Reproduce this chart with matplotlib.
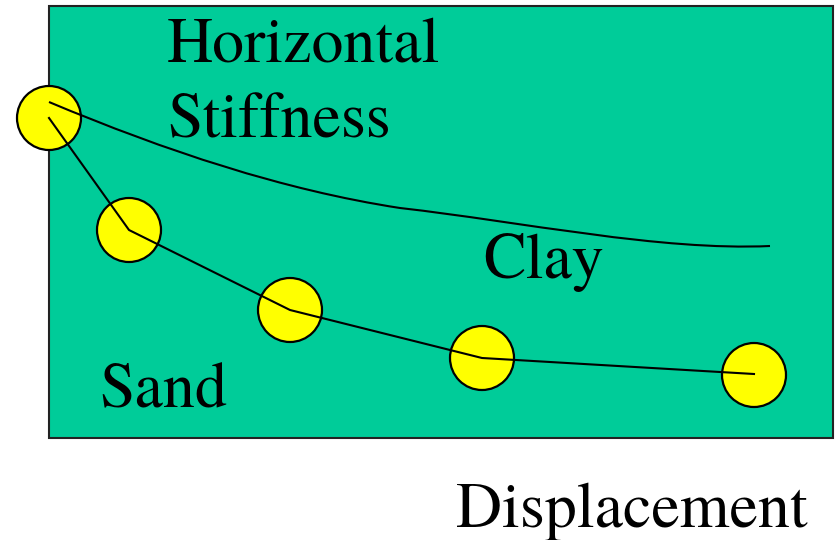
import matplotlib
matplotlib.use("Agg")
import matplotlib.pyplot as plt
from matplotlib.patches import Rectangle, Circle, PathPatch
from matplotlib.path import Path

# Schematic data in pixel-like coordinates (x right, y down)
sand_x = [49, 129, 290, 482, 754]
sand_y = [118, 230, 310, 358, 374]
# Clay curve: cubic Bezier vertices (start, ctrl, ctrl, end, ctrl, ctrl, end)
clay_x = [49, 166, 283, 400, 523, 660, 770]
clay_y = [102, 151, 190, 208, 222, 251, 246]
circle_x = [49, 129, 290, 482, 754]
circle_y = [118, 230, 310, 358, 375]

labels = ["Horizontal", "Stiffness", "Clay", "Sand", "Displacement"]
label_x = [167, 167, 483, 99, 456]
label_y = [62, 138, 278, 407, 527]

fig = plt.figure(figsize=(8.35, 5.4), dpi=100)
ax = fig.add_axes([0, 0, 1, 1])
ax.set_xlim(0, 835)
ax.set_ylim(540, 0)
ax.axis("off")

ax.add_patch(Rectangle((49, 6), 784, 432, facecolor="#00CC99",
                       edgecolor="#222222", linewidth=1.5, zorder=1))

for cx, cy in zip(circle_x, circle_y):
    ax.add_patch(Circle((cx, cy), 32, facecolor="#FFFF00",
                        edgecolor="black", linewidth=1.6, zorder=2))

ax.plot(sand_x, sand_y, color="black", linewidth=1.5, zorder=3)

codes = [Path.MOVETO] + [Path.CURVE4] * (len(clay_x) - 1)
clay_path = Path(list(zip(clay_x, clay_y)), codes)
ax.add_patch(PathPatch(clay_path, facecolor="none", edgecolor="black",
                       linewidth=1.5, zorder=3))

for txt, x, y in zip(labels, label_x, label_y):
    ax.text(x, y, txt, fontsize=46, ha="left", va="baseline",
            family=["TeX Gyre Termes", "FreeSerif", "DejaVu Serif"],
            color="black", zorder=4)

fig.savefig("out.png", dpi=100)
